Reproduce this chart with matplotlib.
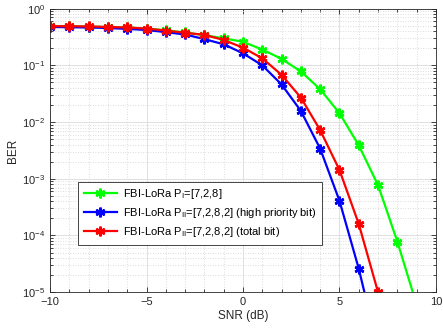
import numpy as np
import matplotlib
matplotlib.use("Agg")
import matplotlib.pyplot as plt
from matplotlib.ticker import MultipleLocator, LogLocator, NullFormatter

plt.rcParams['font.family'] = ['Liberation Sans', 'DejaVu Sans']

snr_green = [-10, -9, -8, -7, -6, -5, -4, -3, -2, -1, 0, 1, 2, 3, 4, 5, 6, 7, 8, 9]
ber_green = [0.49, 0.49, 0.48, 0.475, 0.465, 0.445, 0.415, 0.38, 0.34, 0.30, 0.26, 0.19, 0.13,
             0.078, 0.038, 0.0143, 0.0039, 7.7e-4, 7.8e-5, 6e-6]

snr_blue = [-10, -9, -8, -7, -6, -5, -4, -3, -2, -1, 0, 1, 2, 3, 4, 5, 6, 7]
ber_blue = [0.475, 0.47, 0.465, 0.455, 0.44, 0.42, 0.385, 0.35, 0.29, 0.235, 0.163, 0.10,
            0.046, 0.0157, 0.0034, 4.1e-4, 2.6e-5, 1e-6]

snr_red = [-10, -9, -8, -7, -6, -5, -4, -3, -2, -1, 0, 1, 2, 3, 4, 5, 6, 7]
ber_red = [0.49, 0.49, 0.485, 0.475, 0.465, 0.445, 0.41, 0.375, 0.345, 0.28, 0.205, 0.133,
           0.068, 0.027, 0.0072, 1.43e-3, 1.6e-4, 1e-5]

labels = [r'FBI-LoRa P$_{\mathregular{I}}$=[7,2,8]',
          r'FBI-LoRa P$_{\mathregular{II}}$=[7,2,8,2] (high priority bit)',
          r'FBI-LoRa P$_{\mathregular{II}}$=[7,2,8,2] (total bit)']

fig = plt.figure(figsize=(4.43, 3.32), dpi=100)
ax = fig.add_axes([0.113, 0.120, 0.871, 0.854])

kw = dict(marker=(6, 2, 0), markersize=7, markeredgewidth=1.8, linewidth=1.6)
ax.semilogy(snr_green, ber_green, color='#00ff00', label=labels[0], **kw)
ax.semilogy(snr_blue, ber_blue, color='#0000ff', label=labels[1], **kw)
ax.semilogy(snr_red, ber_red, color='#ff0000', label=labels[2], **kw)

ax.set_xlim(-10, 10)
ax.set_ylim(1e-5, 1)
ax.xaxis.set_major_locator(MultipleLocator(5))
ax.xaxis.set_minor_locator(MultipleLocator(1))
ax.yaxis.set_major_locator(LogLocator(base=10, numticks=10))
ax.yaxis.set_minor_locator(LogLocator(base=10, subs=np.arange(2, 10), numticks=20))
ax.yaxis.set_minor_formatter(NullFormatter())

ax.grid(True, which='major', color='#e0e0e0', linewidth=0.7, linestyle='-')
ax.grid(True, which='minor', color='#d0d0d0', linewidth=0.6, linestyle=(0, (1, 2)))
ax.set_axisbelow(True)

ax.tick_params(which='both', direction='in', top=True, right=True, labelsize=8,
               colors='#262626', width=0.6)
ax.tick_params(which='major', length=3.5)
ax.tick_params(which='minor', length=2)
for s in ax.spines.values():
    s.set_color('#262626')
    s.set_linewidth(0.6)

ax.set_xlabel('SNR (dB)', fontsize=8.5, color='#262626', labelpad=2)
ax.set_ylabel('BER', fontsize=8.5, color='#262626', labelpad=2)

leg = ax.legend(loc='lower left', bbox_to_anchor=(0.073, 0.167), fontsize=8,
                frameon=True, fancybox=False, edgecolor='#262626', framealpha=1,
                borderpad=0.5, labelspacing=0.45, handlelength=3.0, handletextpad=0.5,
                borderaxespad=0)
leg.get_frame().set_linewidth(0.6)

fig.savefig('out.png', dpi=100)
